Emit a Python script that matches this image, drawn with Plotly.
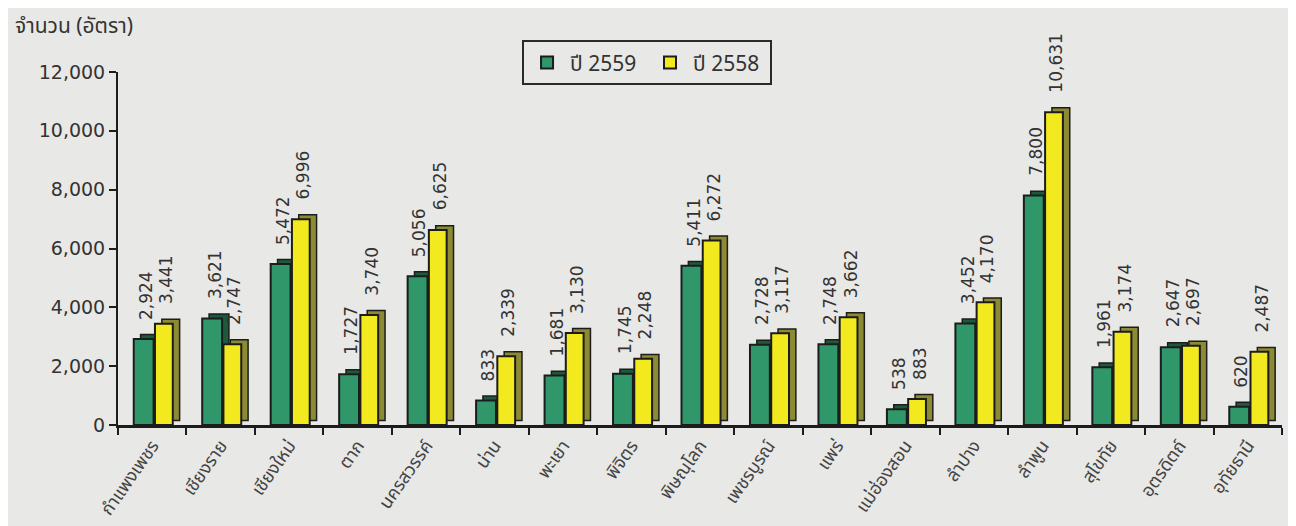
import plotly.graph_objects as go

provinces = ["กำแพงเพชร", "เชียงราย", "เชียงใหม่", "ตาก", "นครสวรรค์", "น่าน", "พะเยา",
             "พิจิตร", "พิษณุโลก", "เพชรบูรณ์", "แพร่", "แม่ฮ่องสอน", "ลำปาง", "ลำพูน",
             "สุโขทัย", "อุตรดิตถ์", "อุทัยธานี"]
y2559 = [2924, 3621, 5472, 1727, 5056, 833, 1681, 1745, 5411, 2728, 2748, 538, 3452, 7800, 1961, 2647, 620]
y2558 = [3441, 2747, 6996, 3740, 6625, 2339, 3130, 2248, 6272, 3117, 3662, 883, 4170, 10631, 3174, 2697, 2487]
series_names = ["ปี 2559 ", "ปี 2558 "]
y_ticks = [0, 2000, 4000, 6000, 8000, 10000, 12000]

THAI = "Noto Sans Thai, Tahoma, Loma, Garuda, Noto Sans, DejaVu Sans, sans-serif"
NUM = "DejaVu Sans, Tahoma, sans-serif"
OUT = "#1c1c1c"

front_cols = ["#2f9769", "#f2ea1f"]
side_cols = ["#1d5a3d", "#8c8a33"]
offsets = [-0.27, 0.04]
widths = [0.29, 0.26]
dx = 0.10
dy = 150

fig = go.Figure()
annotations = []
for k, vals in enumerate([y2559, y2558]):
    fig.add_trace(go.Bar(
        x=provinces, y=vals, base=[dy] * len(vals),
        offset=offsets[k] + dx, width=widths[k],
        marker=dict(color=side_cols[k], line=dict(color=OUT, width=1.5)),
        showlegend=False, hoverinfo="skip"))
    fig.add_trace(go.Bar(
        x=provinces, y=vals, name=series_names[k],
        offset=offsets[k], width=widths[k],
        marker=dict(color=front_cols[k], line=dict(color=OUT, width=2))))
    for i, v in enumerate(vals):
        annotations.append(dict(
            x=i + offsets[k] + widths[k] / 2 + dx / 3, y=v + dy, xref="x", yref="y",
            text=f"{v:,}", textangle=-90, showarrow=False,
            xanchor="center", yanchor="bottom", yshift=13,
            font=dict(family=NUM, size=17, color="#333333")))

annotations.append(dict(
    x=-0.09, y=1.13, xref="paper", yref="paper", xanchor="left", yanchor="middle",
    text="จำนวน (อัตรา)", showarrow=False,
    font=dict(family=THAI, size=21, color="#333333")))

fig.update_layout(
    width=1288, height=518,
    barmode="overlay",
    paper_bgcolor="#e8e8e6", plot_bgcolor="#e8e8e6",
    margin=dict(l=110, r=14, t=64, b=101, autoexpand=False),
    showlegend=True,
    legend=dict(orientation="h", x=0.4545, xanchor="center", y=1.026, yanchor="middle",
                bgcolor="rgba(0,0,0,0)", bordercolor="#2a2a2a", borderwidth=2,
                font=dict(family=THAI, size=21, color="#333333"),
                itemwidth=36, tracegroupgap=0),
    annotations=annotations,
    xaxis=dict(type="category", tickson="boundaries", ticks="outside", ticklen=7,
               tickcolor="#1c1c1c", tickwidth=2, showline=True, linecolor="#1c1c1c",
               linewidth=3, tickangle=-55, showgrid=False, automargin=False,
               tickfont=dict(family=THAI, size=18, color="#444444")),
    yaxis=dict(range=[0, 12000], tickvals=y_ticks, tickformat=",", ticks="outside",
               ticklen=7, tickcolor="#1c1c1c", tickwidth=2, showline=True,
               linecolor="#1c1c1c", linewidth=2, showgrid=False, zeroline=False,
               automargin=False,
               tickfont=dict(family=NUM, size=19, color="#333333")),
)

fig.write_html("out.html")
